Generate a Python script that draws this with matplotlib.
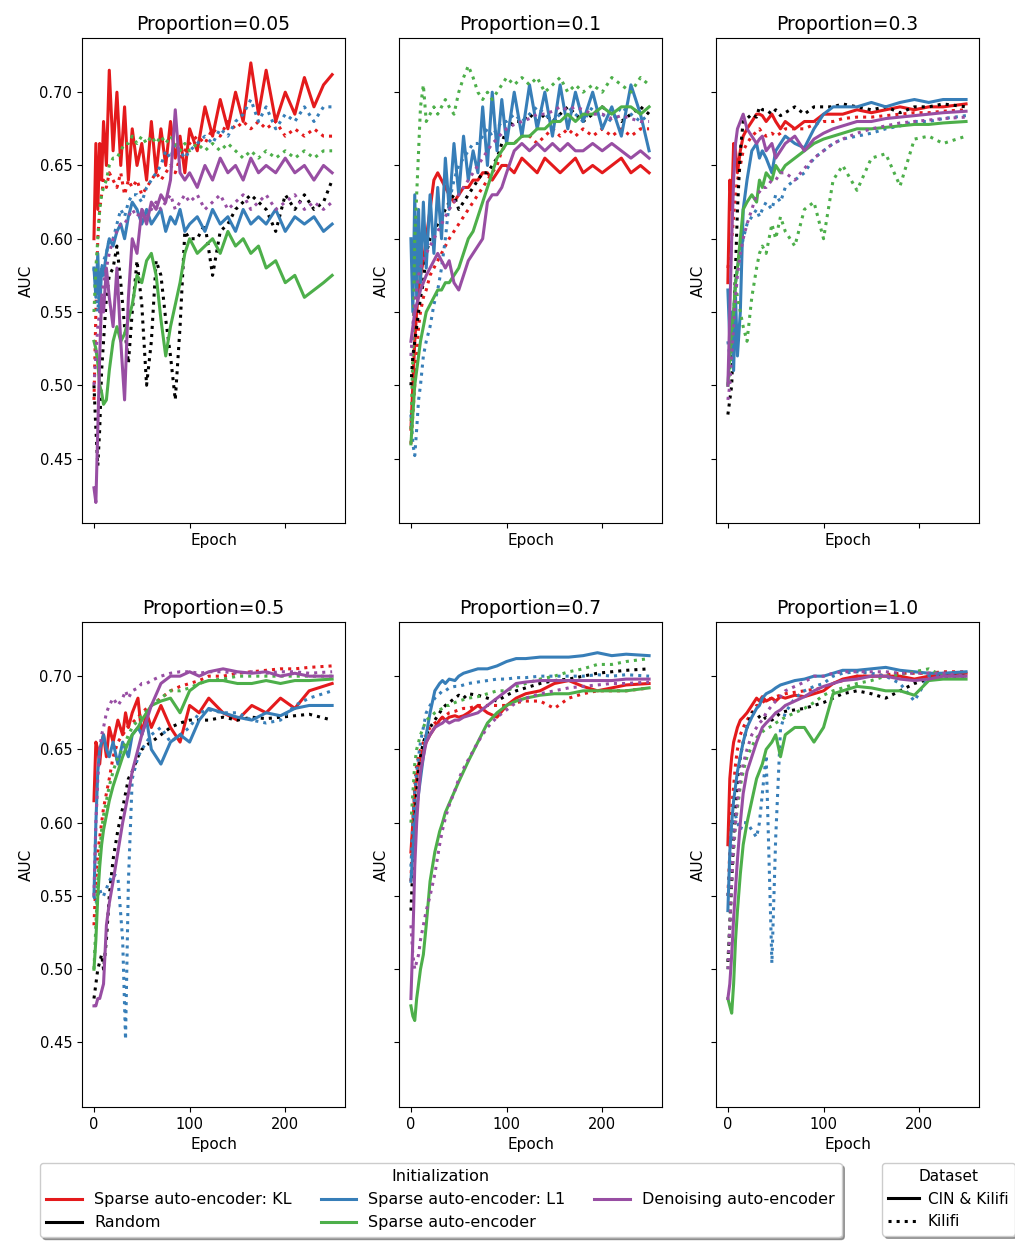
import matplotlib
matplotlib.use("Agg")
import matplotlib.pyplot as plt
from matplotlib.lines import Line2D

# ── Epoch grids (values at these epochs) ──────────────────────────
EPOCHS_FINE = [0, 2, 4, 6, 8, 10, 13, 16, 20, 24, 28, 32, 36, 40, 45, 50, 55, 60, 65, 70,
               75, 80, 85, 90, 95, 100, 108, 116, 124, 132, 140, 148, 156, 164, 172, 180,
               190, 200, 210, 220, 230, 240, 249]
EPOCHS = [0, 2, 4, 6, 8, 10, 13, 16, 20, 25, 30, 33, 36, 40, 46, 50, 55, 60, 70, 80,
          90, 100, 110, 120, 135, 150, 165, 180, 195, 210, 225, 249]

# ── Proportion = 0.05 ─────────────────────────────────────────────
p005_kl_cin = [0.600, 0.665, 0.620, 0.665, 0.640, 0.680, 0.650, 0.715, 0.660, 0.700,
               0.650, 0.690, 0.640, 0.675, 0.650, 0.665, 0.640, 0.680, 0.645, 0.675,
               0.650, 0.680, 0.655, 0.670, 0.645, 0.675, 0.660, 0.690, 0.670, 0.695,
               0.675, 0.700, 0.680, 0.720, 0.685, 0.715, 0.680, 0.700, 0.685, 0.710,
               0.690, 0.705, 0.712]
p005_kl_kil = [0.490, 0.550, 0.600, 0.620, 0.630, 0.640, 0.635, 0.645, 0.640, 0.635,
               0.645, 0.630, 0.640, 0.635, 0.640, 0.630, 0.635, 0.640, 0.645, 0.640,
               0.645, 0.650, 0.645, 0.655, 0.660, 0.665, 0.670, 0.665, 0.675, 0.670,
               0.680, 0.675, 0.680, 0.675, 0.680, 0.675, 0.680, 0.670, 0.675, 0.670,
               0.675, 0.670, 0.670]
p005_rand_kil = [0.500, 0.470, 0.445, 0.470, 0.510, 0.530, 0.560, 0.575, 0.580, 0.595,
                 0.570, 0.540, 0.515, 0.550, 0.585, 0.555, 0.500, 0.530, 0.585, 0.575,
                 0.545, 0.520, 0.490, 0.540, 0.605, 0.600, 0.600, 0.610, 0.575, 0.605,
                 0.610, 0.620, 0.625, 0.630, 0.625, 0.620, 0.605, 0.630, 0.620, 0.630,
                 0.620, 0.625, 0.640]
p005_l1_cin = [0.580, 0.560, 0.590, 0.550, 0.580, 0.575, 0.590, 0.600, 0.595, 0.605,
               0.610, 0.600, 0.615, 0.625, 0.620, 0.610, 0.620, 0.610, 0.615, 0.620,
               0.605, 0.615, 0.610, 0.620, 0.605, 0.610, 0.615, 0.605, 0.620, 0.610,
               0.615, 0.605, 0.620, 0.610, 0.615, 0.610, 0.620, 0.605, 0.615, 0.610,
               0.615, 0.605, 0.610]
p005_l1_kil = [0.580, 0.560, 0.550, 0.570, 0.580, 0.585, 0.590, 0.600, 0.600, 0.610,
               0.620, 0.615, 0.625, 0.630, 0.630, 0.625, 0.635, 0.640, 0.645, 0.650,
               0.660, 0.655, 0.665, 0.660, 0.655, 0.660, 0.665, 0.670, 0.665, 0.675,
               0.670, 0.680, 0.685, 0.695, 0.680, 0.690, 0.675, 0.685, 0.680, 0.690,
               0.680, 0.690, 0.690]
p005_sae_cin = [0.530, 0.525, 0.515, 0.500, 0.495, 0.487, 0.490, 0.510, 0.530, 0.540,
                0.530, 0.535, 0.545, 0.555, 0.575, 0.570, 0.585, 0.590, 0.575, 0.545,
                0.520, 0.540, 0.555, 0.570, 0.590, 0.600, 0.590, 0.595, 0.600, 0.590,
                0.605, 0.595, 0.600, 0.590, 0.595, 0.580, 0.585, 0.570, 0.575, 0.560,
                0.565, 0.570, 0.575]
p005_sae_kil = [0.550, 0.580, 0.600, 0.620, 0.630, 0.635, 0.640, 0.650, 0.655, 0.655,
                0.660, 0.665, 0.665, 0.670, 0.665, 0.670, 0.665, 0.670, 0.665, 0.670,
                0.665, 0.670, 0.665, 0.660, 0.665, 0.660, 0.665, 0.660, 0.665, 0.660,
                0.665, 0.660, 0.655, 0.660, 0.655, 0.660, 0.655, 0.660, 0.655, 0.660,
                0.655, 0.660, 0.660]
p005_dae_cin = [0.430, 0.420, 0.470, 0.520, 0.560, 0.550, 0.580, 0.560, 0.540, 0.580,
                0.530, 0.490, 0.560, 0.600, 0.590, 0.620, 0.610, 0.625, 0.620, 0.630,
                0.625, 0.640, 0.688, 0.645, 0.640, 0.645, 0.635, 0.650, 0.640, 0.655,
                0.645, 0.650, 0.640, 0.655, 0.645, 0.650, 0.645, 0.655, 0.645, 0.650,
                0.640, 0.650, 0.645]
p005_dae_kil = [0.500, 0.520, 0.540, 0.550, 0.560, 0.570, 0.580, 0.590, 0.600, 0.605,
                0.610, 0.610, 0.615, 0.620, 0.615, 0.620, 0.615, 0.620, 0.625, 0.620,
                0.625, 0.630, 0.620, 0.625, 0.630, 0.625, 0.630, 0.620, 0.625, 0.630,
                0.620, 0.625, 0.630, 0.620, 0.625, 0.630, 0.620, 0.625, 0.630, 0.620,
                0.625, 0.620, 0.625]

# ── Proportion = 0.1 ──────────────────────────────────────────────
p01_kl_cin = [0.470, 0.500, 0.530, 0.550, 0.565, 0.575, 0.585, 0.600, 0.620, 0.640,
              0.645, 0.640, 0.635, 0.630, 0.625, 0.630, 0.635, 0.635, 0.640, 0.640,
              0.645, 0.645, 0.640, 0.645, 0.650, 0.650, 0.645, 0.655, 0.650, 0.645,
              0.655, 0.650, 0.645, 0.650, 0.655, 0.645, 0.650, 0.645, 0.650, 0.655,
              0.645, 0.650, 0.645]
p01_kl_kil = [0.460, 0.480, 0.500, 0.520, 0.540, 0.550, 0.560, 0.565, 0.575, 0.580,
              0.585, 0.590, 0.595, 0.600, 0.605, 0.610, 0.615, 0.620, 0.625, 0.630,
              0.635, 0.640, 0.645, 0.650, 0.660, 0.665, 0.665, 0.670, 0.670, 0.665,
              0.670, 0.675, 0.670, 0.675, 0.670, 0.675, 0.670, 0.675, 0.670, 0.675,
              0.670, 0.675, 0.675]
p01_rand_kil = [0.500, 0.520, 0.530, 0.540, 0.550, 0.560, 0.570, 0.590, 0.600, 0.605,
                0.610, 0.615, 0.620, 0.625, 0.630, 0.620, 0.625, 0.630, 0.635, 0.640,
                0.645, 0.645, 0.650, 0.655, 0.665, 0.675, 0.680, 0.680, 0.685, 0.680,
                0.685, 0.680, 0.685, 0.690, 0.685, 0.680, 0.685, 0.690, 0.685, 0.680,
                0.685, 0.690, 0.685]
p01_l1_cin = [0.600, 0.550, 0.630, 0.560, 0.620, 0.570, 0.625, 0.580, 0.630, 0.590,
              0.635, 0.600, 0.655, 0.620, 0.665, 0.630, 0.670, 0.640, 0.660, 0.645,
              0.690, 0.650, 0.700, 0.660, 0.695, 0.665, 0.700, 0.670, 0.705, 0.675,
              0.700, 0.670, 0.705, 0.675, 0.700, 0.680, 0.700, 0.675, 0.690, 0.670,
              0.705, 0.685, 0.660]
p01_l1_kil = [0.480, 0.460, 0.452, 0.470, 0.490, 0.500, 0.520, 0.530, 0.540, 0.555,
              0.565, 0.580, 0.600, 0.625, 0.640, 0.650, 0.655, 0.660, 0.665, 0.665,
              0.670, 0.675, 0.670, 0.675, 0.680, 0.680, 0.685, 0.680, 0.685, 0.690,
              0.685, 0.680, 0.685, 0.690, 0.685, 0.680, 0.690, 0.685, 0.680, 0.690,
              0.685, 0.680, 0.685]
p01_sae_cin = [0.460, 0.480, 0.500, 0.510, 0.520, 0.530, 0.540, 0.550, 0.555, 0.560,
               0.565, 0.565, 0.570, 0.570, 0.575, 0.580, 0.590, 0.600, 0.605, 0.615,
               0.625, 0.635, 0.645, 0.655, 0.660, 0.665, 0.665, 0.670, 0.670, 0.675,
               0.675, 0.680, 0.680, 0.685, 0.680, 0.685, 0.685, 0.690, 0.685, 0.690,
               0.690, 0.685, 0.690]
p01_sae_kil = [0.470, 0.520, 0.600, 0.630, 0.660, 0.690, 0.705, 0.680, 0.685, 0.690,
               0.685, 0.690, 0.695, 0.690, 0.685, 0.700, 0.710, 0.718, 0.710, 0.700,
               0.695, 0.700, 0.695, 0.700, 0.705, 0.710, 0.705, 0.710, 0.705, 0.710,
               0.700, 0.705, 0.710, 0.700, 0.705, 0.700, 0.705, 0.700, 0.710, 0.705,
               0.700, 0.710, 0.705]
p01_dae_cin = [0.530, 0.540, 0.550, 0.555, 0.560, 0.565, 0.570, 0.575, 0.580, 0.585,
               0.590, 0.585, 0.580, 0.585, 0.570, 0.565, 0.575, 0.585, 0.590, 0.595,
               0.600, 0.625, 0.630, 0.630, 0.635, 0.645, 0.660, 0.665, 0.660, 0.665,
               0.660, 0.665, 0.660, 0.665, 0.660, 0.660, 0.665, 0.660, 0.665, 0.660,
               0.655, 0.660, 0.655]
p01_dae_kil = [0.520, 0.540, 0.555, 0.565, 0.575, 0.580, 0.585, 0.590, 0.595, 0.600,
               0.605, 0.610, 0.615, 0.620, 0.625, 0.630, 0.635, 0.640, 0.645, 0.650,
               0.655, 0.660, 0.665, 0.668, 0.672, 0.675, 0.678, 0.680, 0.682, 0.685,
               0.685, 0.687, 0.690, 0.688, 0.690, 0.688, 0.685, 0.685, 0.682, 0.684,
               0.682, 0.680, 0.680]

# ── Proportion = 0.3 ──────────────────────────────────────────────
p03_kl_cin = [0.570, 0.640, 0.620, 0.665, 0.660, 0.645, 0.660, 0.670, 0.675, 0.680,
              0.685, 0.685, 0.684, 0.680, 0.685, 0.680, 0.675, 0.680, 0.675, 0.680,
              0.680, 0.685, 0.685, 0.685, 0.688, 0.686, 0.688, 0.690, 0.688, 0.690,
              0.690, 0.692]
p03_kl_kil = [0.580, 0.590, 0.600, 0.615, 0.630, 0.640, 0.650, 0.660, 0.665, 0.670,
              0.673, 0.675, 0.672, 0.670, 0.672, 0.670, 0.672, 0.675, 0.675, 0.675,
              0.678, 0.680, 0.680, 0.682, 0.683, 0.683, 0.684, 0.685, 0.686, 0.686,
              0.687, 0.688]
p03_rand_kil = [0.480, 0.490, 0.500, 0.540, 0.580, 0.620, 0.660, 0.680, 0.682, 0.685,
                0.683, 0.690, 0.688, 0.688, 0.685, 0.688, 0.684, 0.686, 0.690, 0.685,
                0.690, 0.690, 0.690, 0.692, 0.690, 0.688, 0.690, 0.686, 0.690, 0.690,
                0.692, 0.690]
p03_l1_cin = [0.565, 0.530, 0.550, 0.510, 0.560, 0.520, 0.550, 0.620, 0.640, 0.660,
              0.665, 0.655, 0.660, 0.655, 0.645, 0.660, 0.665, 0.670, 0.665, 0.662,
              0.675, 0.685, 0.690, 0.690, 0.690, 0.693, 0.690, 0.693, 0.695, 0.693,
              0.695, 0.695]
p03_l1_kil = [0.530, 0.520, 0.540, 0.550, 0.570, 0.580, 0.590, 0.600, 0.610, 0.615,
              0.620, 0.615, 0.620, 0.625, 0.620, 0.630, 0.625, 0.635, 0.640, 0.645,
              0.655, 0.660, 0.665, 0.668, 0.670, 0.672, 0.675, 0.677, 0.680, 0.680,
              0.682, 0.684]
p03_sae_cin = [0.500, 0.520, 0.540, 0.550, 0.570, 0.580, 0.600, 0.620, 0.625, 0.630,
               0.625, 0.640, 0.635, 0.645, 0.640, 0.650, 0.645, 0.650, 0.655, 0.660,
               0.665, 0.668, 0.670, 0.672, 0.675, 0.675, 0.676, 0.677, 0.678, 0.678,
               0.679, 0.680]
p03_sae_kil = [0.500, 0.510, 0.530, 0.550, 0.570, 0.560, 0.550, 0.540, 0.530, 0.560,
               0.580, 0.590, 0.595, 0.590, 0.610, 0.600, 0.615, 0.605, 0.595, 0.620,
               0.625, 0.600, 0.640, 0.650, 0.633, 0.655, 0.658, 0.636, 0.668, 0.670,
               0.665, 0.670]
p03_dae_cin = [0.500, 0.550, 0.600, 0.640, 0.665, 0.675, 0.680, 0.685, 0.675, 0.670,
               0.665, 0.668, 0.670, 0.660, 0.665, 0.655, 0.660, 0.665, 0.670, 0.660,
               0.668, 0.672, 0.675, 0.677, 0.680, 0.680, 0.682, 0.683, 0.684, 0.685,
               0.686, 0.687]
p03_dae_kil = [0.490, 0.500, 0.520, 0.540, 0.560, 0.575, 0.590, 0.600, 0.610, 0.620,
               0.630, 0.632, 0.635, 0.635, 0.640, 0.640, 0.645, 0.645, 0.640, 0.648,
               0.655, 0.660, 0.665, 0.668, 0.672, 0.675, 0.677, 0.679, 0.680, 0.681,
               0.682, 0.683]

# ── Proportion = 0.5 ──────────────────────────────────────────────
p05_kl_cin = [0.615, 0.655, 0.650, 0.640, 0.655, 0.660, 0.645, 0.665, 0.655, 0.670,
              0.660, 0.675, 0.665, 0.675, 0.685, 0.660, 0.675, 0.665, 0.680, 0.665,
              0.655, 0.680, 0.675, 0.685, 0.675, 0.670, 0.680, 0.675, 0.685, 0.678,
              0.690, 0.695]
p05_kl_kil = [0.530, 0.560, 0.580, 0.590, 0.600, 0.610, 0.620, 0.630, 0.645, 0.655,
              0.660, 0.663, 0.666, 0.668, 0.672, 0.675, 0.678, 0.680, 0.685, 0.690,
              0.693, 0.695, 0.697, 0.700, 0.700, 0.702, 0.703, 0.704, 0.705, 0.705,
              0.706, 0.707]
p05_rand_kil = [0.480, 0.490, 0.500, 0.505, 0.510, 0.500, 0.520, 0.550, 0.575, 0.595,
                0.610, 0.620, 0.630, 0.635, 0.645, 0.650, 0.653, 0.655, 0.660, 0.665,
                0.668, 0.670, 0.670, 0.670, 0.672, 0.670, 0.672, 0.671, 0.672, 0.673,
                0.674, 0.670]
p05_l1_cin = [0.550, 0.600, 0.635, 0.650, 0.655, 0.660, 0.650, 0.645, 0.655, 0.640,
              0.655, 0.650, 0.645, 0.660, 0.665, 0.660, 0.670, 0.650, 0.640, 0.655,
              0.660, 0.655, 0.670, 0.678, 0.675, 0.672, 0.670, 0.675, 0.673, 0.678,
              0.680, 0.680]
p05_l1_kil = [0.550, 0.545, 0.550, 0.555, 0.550, 0.550, 0.555, 0.560, 0.565, 0.563,
              0.520, 0.452, 0.560, 0.630, 0.645, 0.650, 0.655, 0.660, 0.665, 0.655,
              0.660, 0.665, 0.675, 0.677, 0.675, 0.675, 0.670, 0.668, 0.670, 0.680,
              0.685, 0.690]
p05_sae_cin = [0.500, 0.520, 0.550, 0.570, 0.585, 0.595, 0.605, 0.615, 0.625, 0.635,
               0.645, 0.650, 0.655, 0.660, 0.665, 0.670, 0.675, 0.680, 0.683, 0.685,
               0.675, 0.690, 0.695, 0.697, 0.697, 0.695, 0.695, 0.697, 0.695, 0.697,
               0.697, 0.698]
p05_sae_kil = [0.500, 0.530, 0.560, 0.580, 0.595, 0.605, 0.615, 0.625, 0.635, 0.645,
               0.650, 0.655, 0.660, 0.665, 0.670, 0.673, 0.676, 0.680, 0.685, 0.690,
               0.690, 0.692, 0.695, 0.697, 0.698, 0.700, 0.700, 0.700, 0.700, 0.700,
               0.700, 0.700]
p05_dae_cin = [0.475, 0.475, 0.480, 0.480, 0.485, 0.490, 0.530, 0.545, 0.560, 0.580,
               0.600, 0.610, 0.620, 0.635, 0.650, 0.660, 0.670, 0.680, 0.695, 0.700,
               0.700, 0.703, 0.700, 0.703, 0.705, 0.703, 0.702, 0.703, 0.700, 0.702,
               0.700, 0.700]
p05_dae_kil = [0.550, 0.600, 0.630, 0.650, 0.660, 0.665, 0.675, 0.680, 0.685, 0.680,
               0.685, 0.690, 0.685, 0.690, 0.692, 0.695, 0.695, 0.697, 0.700, 0.702,
               0.703, 0.703, 0.702, 0.703, 0.703, 0.702, 0.703, 0.702, 0.703, 0.703,
               0.702, 0.703]

# ── Proportion = 0.7 ──────────────────────────────────────────────
p07_kl_cin = [0.580, 0.600, 0.620, 0.630, 0.640, 0.645, 0.650, 0.655, 0.660, 0.665,
              0.670, 0.672, 0.670, 0.672, 0.673, 0.672, 0.673, 0.675, 0.680, 0.675,
              0.672, 0.680, 0.685, 0.688, 0.690, 0.695, 0.697, 0.693, 0.690, 0.692,
              0.694, 0.695]
p07_kl_kil = [0.560, 0.600, 0.625, 0.640, 0.645, 0.650, 0.655, 0.660, 0.665, 0.668,
              0.670, 0.672, 0.673, 0.675, 0.676, 0.677, 0.678, 0.678, 0.680, 0.680,
              0.680, 0.680, 0.682, 0.683, 0.683, 0.678, 0.685, 0.688, 0.690, 0.690,
              0.690, 0.692]
p07_rand_kil = [0.540, 0.570, 0.600, 0.620, 0.635, 0.645, 0.655, 0.660, 0.665, 0.670,
                0.675, 0.678, 0.680, 0.682, 0.685, 0.687, 0.685, 0.688, 0.687, 0.685,
                0.683, 0.687, 0.690, 0.692, 0.695, 0.697, 0.698, 0.700, 0.702, 0.703,
                0.704, 0.705]
p07_l1_cin = [0.560, 0.580, 0.600, 0.610, 0.620, 0.630, 0.645, 0.660, 0.675, 0.690,
              0.695, 0.697, 0.695, 0.698, 0.697, 0.700, 0.702, 0.703, 0.705, 0.705,
              0.707, 0.710, 0.712, 0.712, 0.713, 0.713, 0.713, 0.714, 0.716, 0.714,
              0.715, 0.714]
p07_l1_kil = [0.570, 0.600, 0.620, 0.635, 0.645, 0.655, 0.665, 0.675, 0.680, 0.685,
              0.688, 0.690, 0.690, 0.692, 0.693, 0.693, 0.694, 0.695, 0.696, 0.697,
              0.698, 0.698, 0.699, 0.699, 0.700, 0.700, 0.700, 0.700, 0.701, 0.700,
              0.701, 0.700]
p07_sae_cin = [0.475, 0.468, 0.465, 0.480, 0.490, 0.500, 0.510, 0.530, 0.560, 0.580,
               0.594, 0.600, 0.607, 0.613, 0.622, 0.628, 0.635, 0.642, 0.655, 0.668,
               0.675, 0.680, 0.683, 0.685, 0.687, 0.688, 0.688, 0.690, 0.690, 0.690,
               0.690, 0.692]
p07_sae_kil = [0.600, 0.620, 0.640, 0.650, 0.655, 0.660, 0.665, 0.670, 0.672, 0.675,
               0.677, 0.678, 0.680, 0.680, 0.682, 0.683, 0.684, 0.685, 0.686, 0.688,
               0.690, 0.690, 0.693, 0.695, 0.698, 0.700, 0.703, 0.705, 0.708, 0.708,
               0.710, 0.712]
p07_dae_cin = [0.480, 0.520, 0.570, 0.600, 0.620, 0.635, 0.645, 0.655, 0.660, 0.665,
               0.667, 0.668, 0.670, 0.668, 0.670, 0.670, 0.672, 0.673, 0.675, 0.680,
               0.685, 0.690, 0.695, 0.696, 0.697, 0.697, 0.697, 0.697, 0.697, 0.697,
               0.698, 0.698]
p07_dae_kil = [0.530, 0.510, 0.500, 0.505, 0.510, 0.520, 0.530, 0.540, 0.550, 0.565,
               0.585, 0.595, 0.603, 0.612, 0.622, 0.630, 0.637, 0.643, 0.655, 0.665,
               0.672, 0.677, 0.682, 0.685, 0.688, 0.690, 0.692, 0.693, 0.694, 0.695,
               0.695, 0.696]

# ── Proportion = 1.0 ──────────────────────────────────────────────
p10_kl_cin = [0.585, 0.630, 0.645, 0.655, 0.660, 0.665, 0.670, 0.672, 0.675, 0.680,
              0.685, 0.683, 0.686, 0.683, 0.685, 0.683, 0.686, 0.685, 0.687, 0.686,
              0.688, 0.690, 0.695, 0.698, 0.700, 0.700, 0.700, 0.700, 0.698, 0.700,
              0.701, 0.702]
p10_kl_kil = [0.550, 0.580, 0.610, 0.625, 0.640, 0.650, 0.660, 0.665, 0.670, 0.675,
              0.680, 0.680, 0.682, 0.684, 0.685, 0.686, 0.687, 0.688, 0.689, 0.690,
              0.691, 0.692, 0.695, 0.697, 0.700, 0.700, 0.701, 0.702, 0.702, 0.702,
              0.703, 0.703]
p10_rand_kil = [0.505, 0.530, 0.560, 0.590, 0.610, 0.630, 0.645, 0.655, 0.665, 0.675,
                0.675, 0.672, 0.670, 0.672, 0.670, 0.672, 0.675, 0.676, 0.677, 0.678,
                0.680, 0.682, 0.685, 0.688, 0.690, 0.688, 0.685, 0.690, 0.695, 0.698,
                0.700, 0.700]
p10_l1_cin = [0.540, 0.580, 0.600, 0.615, 0.625, 0.635, 0.645, 0.655, 0.665, 0.672,
              0.678, 0.680, 0.685, 0.688, 0.690, 0.692, 0.694, 0.695, 0.697, 0.698,
              0.700, 0.700, 0.702, 0.704, 0.704, 0.705, 0.706, 0.704, 0.703, 0.702,
              0.702, 0.703]
p10_l1_kil = [0.550, 0.570, 0.590, 0.600, 0.605, 0.600, 0.595, 0.600, 0.600, 0.595,
              0.590, 0.600, 0.620, 0.646, 0.504, 0.590, 0.664, 0.675, 0.685, 0.690,
              0.693, 0.695, 0.700, 0.702, 0.703, 0.702, 0.700, 0.695, 0.683, 0.700,
              0.700, 0.700]
p10_sae_cin = [0.480, 0.475, 0.470, 0.490, 0.520, 0.540, 0.565, 0.585, 0.600, 0.615,
               0.630, 0.635, 0.640, 0.650, 0.655, 0.660, 0.645, 0.660, 0.665, 0.665,
               0.655, 0.665, 0.688, 0.690, 0.693, 0.692, 0.690, 0.690, 0.687, 0.697,
               0.698, 0.698]
p10_sae_kil = [0.500, 0.530, 0.560, 0.580, 0.600, 0.610, 0.625, 0.635, 0.645, 0.652,
               0.658, 0.660, 0.662, 0.664, 0.666, 0.668, 0.670, 0.672, 0.675, 0.678,
               0.682, 0.687, 0.690, 0.692, 0.695, 0.697, 0.700, 0.701, 0.703, 0.705,
               0.700, 0.700]
p10_dae_cin = [0.480, 0.490, 0.510, 0.535, 0.555, 0.575, 0.600, 0.620, 0.635, 0.645,
               0.655, 0.660, 0.665, 0.668, 0.672, 0.675, 0.677, 0.680, 0.683, 0.686,
               0.690, 0.693, 0.695, 0.697, 0.698, 0.700, 0.700, 0.698, 0.697, 0.698,
               0.700, 0.700]
p10_dae_kil = [0.500, 0.530, 0.560, 0.585, 0.600, 0.615, 0.630, 0.640, 0.650, 0.660,
               0.665, 0.668, 0.670, 0.675, 0.680, 0.683, 0.686, 0.690, 0.693, 0.696,
               0.700, 0.700, 0.702, 0.703, 0.703, 0.703, 0.703, 0.702, 0.702, 0.702,
               0.702, 0.700]

# ── Labels / styling ──────────────────────────────────────────────
PROPORTIONS = ["0.05", "0.1", "0.3", "0.5", "0.7", "1.0"]
METHODS = ["Sparse auto-encoder: KL", "Random", "Sparse auto-encoder: L1",
           "Sparse auto-encoder", "Denoising auto-encoder"]
DATASETS = ["CIN & Kilifi", "Kilifi"]
COLORS = ["#e41a1c", "black", "#377eb8", "#4daf4a", "#984ea3"]
STYLES = ["-", ":"]

# (method index, dataset index) -> values, one dict per panel
panels = [
    (EPOCHS_FINE, {(0, 0): p005_kl_cin, (0, 1): p005_kl_kil, (1, 1): p005_rand_kil,
                   (2, 0): p005_l1_cin, (2, 1): p005_l1_kil, (3, 0): p005_sae_cin,
                   (3, 1): p005_sae_kil, (4, 0): p005_dae_cin, (4, 1): p005_dae_kil}),
    (EPOCHS_FINE, {(0, 0): p01_kl_cin, (0, 1): p01_kl_kil, (1, 1): p01_rand_kil,
                   (2, 0): p01_l1_cin, (2, 1): p01_l1_kil, (3, 0): p01_sae_cin,
                   (3, 1): p01_sae_kil, (4, 0): p01_dae_cin, (4, 1): p01_dae_kil}),
    (EPOCHS, {(0, 0): p03_kl_cin, (0, 1): p03_kl_kil, (1, 1): p03_rand_kil,
              (2, 0): p03_l1_cin, (2, 1): p03_l1_kil, (3, 0): p03_sae_cin,
              (3, 1): p03_sae_kil, (4, 0): p03_dae_cin, (4, 1): p03_dae_kil}),
    (EPOCHS, {(0, 0): p05_kl_cin, (0, 1): p05_kl_kil, (1, 1): p05_rand_kil,
              (2, 0): p05_l1_cin, (2, 1): p05_l1_kil, (3, 0): p05_sae_cin,
              (3, 1): p05_sae_kil, (4, 0): p05_dae_cin, (4, 1): p05_dae_kil}),
    (EPOCHS, {(0, 0): p07_kl_cin, (0, 1): p07_kl_kil, (1, 1): p07_rand_kil,
              (2, 0): p07_l1_cin, (2, 1): p07_l1_kil, (3, 0): p07_sae_cin,
              (3, 1): p07_sae_kil, (4, 0): p07_dae_cin, (4, 1): p07_dae_kil}),
    (EPOCHS, {(0, 0): p10_kl_cin, (0, 1): p10_kl_kil, (1, 1): p10_rand_kil,
              (2, 0): p10_l1_cin, (2, 1): p10_l1_kil, (3, 0): p10_sae_cin,
              (3, 1): p10_sae_kil, (4, 0): p10_dae_cin, (4, 1): p10_dae_kil}),
]

plt.rcParams.update({"font.family": "DejaVu Sans", "font.size": 10})

fig, axes = plt.subplots(2, 3, figsize=(10.15, 12.41), dpi=100, sharex=True, sharey=True)
fig.subplots_adjust(left=0.0808, right=0.9645, bottom=0.108, top=0.9694,
                    wspace=0.205, hspace=0.204)

for ax, prop, (epochs, series) in zip(axes.flat, PROPORTIONS, panels):
    for (m, d), vals in series.items():
        ax.plot(epochs, vals, color=COLORS[m], linestyle=STYLES[d], linewidth=2.2)
    ax.set_title(f"Proportion={prop}", fontsize=13.5)
    ax.set_xlabel("Epoch", fontsize=11)
    ax.set_ylabel("AUC", fontsize=11)
    ax.tick_params(labelsize=10.5)

axes[0, 0].set_xlim(-12.5, 262.5)
axes[0, 0].set_ylim(0.406, 0.737)
axes[0, 0].set_xticks([0, 100, 200])
axes[0, 0].set_yticks([0.45, 0.50, 0.55, 0.60, 0.65, 0.70])

# ── Legends ───────────────────────────────────────────────────────
init_handles = [Line2D([], [], color=c, linewidth=2.2) for c in COLORS]
fig.legend(init_handles, METHODS, title="Initialization", ncol=3,
           loc="upper left", bbox_to_anchor=(40 / 1015, 1 - 1163 / 1241),
           borderaxespad=0, shadow=True, fontsize=11.5, title_fontsize=11.5,
           columnspacing=1.8, handlelength=2.2)

# the reference crops this legend at the right edge of the figure
data_handles = [Line2D([], [], color="black", linewidth=2.2, linestyle=s) for s in STYLES]
fig.legend(data_handles, DATASETS, title="Dataset",
           loc="upper left", bbox_to_anchor=(882 / 1015, 1 - 1163 / 1241),
           borderaxespad=0, shadow=True, fontsize=11, title_fontsize=11,
           handlelength=2.0, handletextpad=0.6)

fig.savefig("out.png", dpi=100)
print("Saved: out.png")
